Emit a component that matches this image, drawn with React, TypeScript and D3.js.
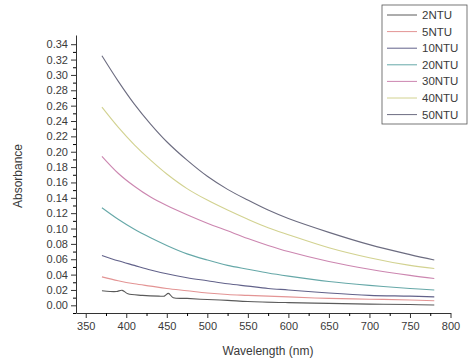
import React, { useEffect, useRef } from 'react';
import * as d3 from 'd3';

// wavelength grid (nm) shared by most series
const wavelengths = [370, 390, 410, 430, 450, 475, 500, 525, 550, 575, 600, 650, 700, 750, 780];

const ntu50 = [0.325, 0.292, 0.262, 0.236, 0.213, 0.189, 0.168, 0.151, 0.137, 0.124, 0.113, 0.095, 0.079, 0.066, 0.059];
const ntu40 = [0.258, 0.232, 0.209, 0.189, 0.171, 0.152, 0.137, 0.124, 0.112, 0.101, 0.092, 0.075, 0.062, 0.052, 0.048];
const ntu30 = [0.194, 0.172, 0.155, 0.141, 0.13, 0.118, 0.107, 0.097, 0.087, 0.078, 0.07, 0.057, 0.047, 0.039, 0.035];
const ntu20 = [0.127, 0.112, 0.099, 0.088, 0.078, 0.067, 0.059, 0.052, 0.047, 0.042, 0.038, 0.031, 0.026, 0.022, 0.02];
const ntu10 = [0.065, 0.058, 0.052, 0.046, 0.041, 0.036, 0.032, 0.028, 0.025, 0.022, 0.02, 0.016, 0.013, 0.012, 0.011];
const ntu5 = [0.037, 0.032, 0.028, 0.025, 0.022, 0.019, 0.016, 0.014, 0.013, 0.012, 0.011, 0.009, 0.008, 0.007, 0.006];

// 2NTU has two small bumps, so it gets its own wavelengths
const wavelengths2 = [370, 380, 388, 395, 402, 420, 440, 447, 452, 458, 475, 500, 525, 550, 600, 650, 700, 750, 780];
const ntu2 = [0.019, 0.018, 0.018, 0.0195, 0.015, 0.013, 0.012, 0.012, 0.0155, 0.01, 0.009, 0.0075, 0.0065, 0.005, 0.0035, 0.0025, 0.0015, 0.001, 0.0005];

const seriesNames = ['2NTU', '5NTU', '10NTU', '20NTU', '30NTU', '40NTU', '50NTU'];
const seriesColors = ['#5a5a5a', '#e39494', '#62628a', '#66a8a8', '#cc86b0', '#d2d290', '#6c6c80'];

const xTicks = [350, 400, 450, 500, 550, 600, 650, 700, 750, 800];
const yTicks = [0, 0.02, 0.04, 0.06, 0.08, 0.1, 0.12, 0.14, 0.16, 0.18, 0.2, 0.22, 0.24, 0.26, 0.28, 0.3, 0.32, 0.34];

const W = 469;
const H = 362;

const App: React.FC = () => {
  const svgRef = useRef<SVGSVGElement>(null);

  useEffect(() => {
    const svg = d3.select(svgRef.current);
    svg.selectAll('*').remove();

    const font = 'Liberation Sans, Arial, sans-serif';

    const x = d3.scaleLinear().domain([338, 800]).range([76, 450.5]);
    const y = d3.scaleLinear().domain([-0.01, 0.352]).range([313, 35]);

    const data: { w: number; v: number }[][] = [
      wavelengths2.map((w, i) => ({ w, v: ntu2[i] })),
      wavelengths.map((w, i) => ({ w, v: ntu5[i] })),
      wavelengths.map((w, i) => ({ w, v: ntu10[i] })),
      wavelengths.map((w, i) => ({ w, v: ntu20[i] })),
      wavelengths.map((w, i) => ({ w, v: ntu30[i] })),
      wavelengths.map((w, i) => ({ w, v: ntu40[i] })),
      wavelengths.map((w, i) => ({ w, v: ntu50[i] })),
    ];

    // axes
    const xAxis = svg.append('g')
      .attr('transform', `translate(0,${y(-0.01)})`)
      .call(d3.axisBottom(x).tickValues(xTicks).tickSize(5).tickSizeOuter(0).tickFormat(d3.format('d')));
    svg.append('g')
      .attr('transform', `translate(0,${y(-0.01)})`)
      .call(d3.axisBottom(x).tickValues(d3.range(375, 800, 50)).tickSize(3).tickSizeOuter(0).tickFormat(() => ''))
      .select('.domain').remove();

    const yAxis = svg.append('g')
      .attr('transform', `translate(${x(338)},0)`)
      .call(d3.axisLeft(y).tickValues(yTicks).tickSize(5).tickSizeOuter(0).tickFormat(d3.format('.2f')));
    svg.append('g')
      .attr('transform', `translate(${x(338)},0)`)
      .call(d3.axisLeft(y).tickValues(d3.range(-0.01, 0.35, 0.02)).tickSize(3).tickSizeOuter(0).tickFormat(() => ''))
      .select('.domain').remove();

    [xAxis, yAxis].forEach(g => {
      g.selectAll('text').attr('font-family', font).attr('font-size', 11).attr('fill', '#3a3a3a');
      g.selectAll('line, path').attr('stroke', '#333');
    });
    xAxis.selectAll('text').attr('dy', '0.85em');
    yAxis.selectAll('text').attr('x', -8);

    svg.append('text')
      .attr('x', 268).attr('y', 355)
      .attr('text-anchor', 'middle')
      .attr('font-family', font).attr('font-size', 12).attr('fill', '#3a3a3a')
      .text('Wavelength (nm)');

    svg.append('text')
      .attr('transform', 'translate(22,176) rotate(-90)')
      .attr('text-anchor', 'middle')
      .attr('font-family', font).attr('font-size', 12).attr('fill', '#3a3a3a')
      .text('Absorbance');

    // curves
    const line = d3.line<{ w: number; v: number }>()
      .x(d => x(d.w))
      .y(d => y(d.v))
      .curve(d3.curveCatmullRom);

    data.forEach((s, i) => {
      svg.append('path')
        .datum(s)
        .attr('fill', 'none')
        .attr('stroke', seriesColors[i])
        .attr('stroke-width', 1.1)
        .attr('d', line);
    });

    // legend
    const legend = svg.append('g');
    legend.append('rect')
      .attr('x', 382).attr('y', 5).attr('width', 85).attr('height', 119)
      .attr('fill', 'white').attr('stroke', '#555').attr('stroke-width', 0.8);
    seriesNames.forEach((name, i) => {
      const cy = 15 + i * 16.6;
      legend.append('line')
        .attr('x1', 387).attr('x2', 417).attr('y1', cy).attr('y2', cy)
        .attr('stroke', seriesColors[i]).attr('stroke-width', 1);
      legend.append('text')
        .attr('x', 422).attr('y', cy + 4)
        .attr('font-family', font).attr('font-size', 11.5).attr('fill', '#3a3a3a')
        .text(name);
    });
  }, []);

  return (
    <svg ref={svgRef} width={W} height={H} style={{ position: 'absolute', left: 0, top: 0, background: 'white' }} />
  );
};

export default App;
